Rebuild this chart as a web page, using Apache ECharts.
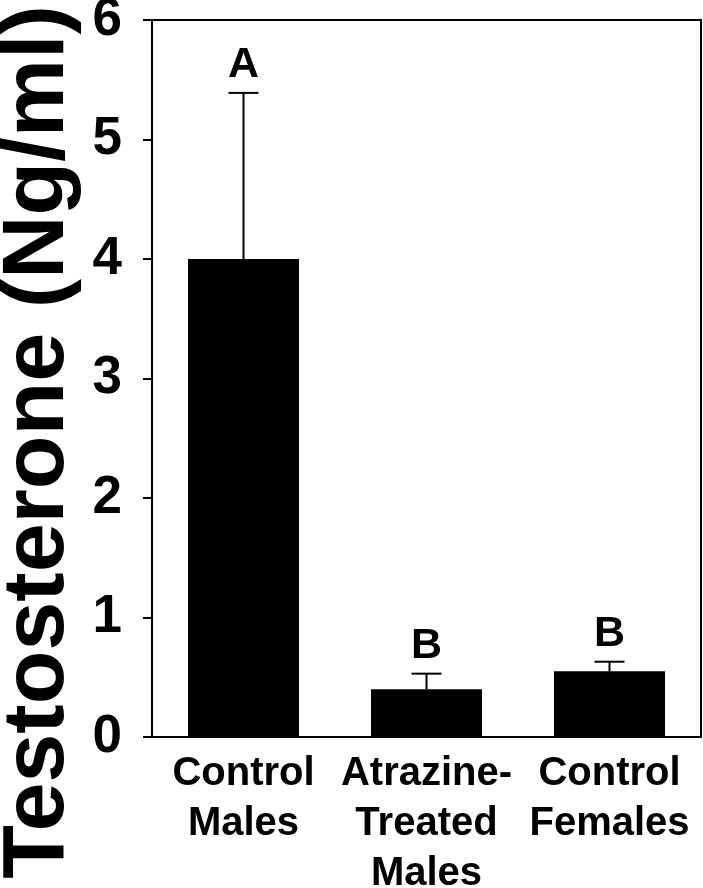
<!DOCTYPE html>
<html>
<head>
<meta charset="utf-8">
<script src="https://cdn.jsdelivr.net/npm/echarts@6/dist/echarts.min.js"></script>
<style>
html,body{margin:0;padding:0;background:#fff;}
#chart{width:703px;height:888px;}
</style>
</head>
<body>
<div id="chart"></div>
<script>
const categories = ['Control\nMales', 'Atrazine-\nTreated\nMales', 'Control\nFemales'];
const means = [4.0, 0.40, 0.55];
const stdErrors = [1.39, 0.13, 0.08];
const groupLetters = ['A', 'B', 'B'];
const yTicks = [0, 1, 2, 3, 4, 5, 6];
const yTitle = 'Testosterone (Ng/ml)';

const FONT = '"Liberation Sans", Arial, Helvetica, sans-serif';

const errData = means.map((m, i) => [i, m, m + stdErrors[i], groupLetters[i]]);

const chart = echarts.init(document.getElementById('chart'), null, {renderer: 'canvas'});
chart.setOption({
  animation: false,
  backgroundColor: '#fff',
  grid: {
    left: 152, right: 2, top: 20, bottom: 151,
    containLabel: false,
    outerBoundsMode: 'none',
    show: true, borderColor: '#000', borderWidth: 2, backgroundColor: 'transparent'
  },
  xAxis: {
    type: 'category',
    data: categories,
    boundaryGap: true,
    axisLine: {show: true, lineStyle: {color: '#000', width: 2}},
    axisTick: {show: false},
    axisLabel: {
      color: '#000', fontFamily: FONT, fontWeight: 'bold', fontSize: 40,
      lineHeight: 50, margin: 12, interval: 0
    },
    splitLine: {show: false}
  },
  yAxis: {
    type: 'value',
    min: yTicks[0], max: yTicks[yTicks.length - 1], interval: 1,
    axisLine: {show: true, lineStyle: {color: '#000', width: 2}},
    axisTick: {show: true, inside: false, length: 9, lineStyle: {color: '#000', width: 2}},
    axisLabel: {
      color: '#000', fontFamily: FONT, fontWeight: 'bold', fontSize: 53, margin: 30
    },
    splitLine: {show: false}
  },
  graphic: [{
    type: 'text',
    x: 39, y: 442,
    rotation: Math.PI / 2,
    style: {
      text: yTitle,
      font: 'bold 88px ' + FONT,
      fill: '#000',
      align: 'center',
      verticalAlign: 'middle'
    }
  }],
  series: [
    {
      type: 'bar',
      data: means,
      barWidth: 111,
      itemStyle: {color: '#000'},
      z: 2
    },
    {
      type: 'custom',
      data: errData,
      z: 3,
      renderItem: function (params, api) {
        const base = api.coord([api.value(0), api.value(1)]);
        const top = api.coord([api.value(0), api.value(2)]);
        const capHalf = 15;
        const letter = groupLetters[params.dataIndex];
        return {
          type: 'group',
          children: [
            {type: 'line', shape: {x1: base[0], y1: base[1], x2: top[0], y2: top[1]},
             style: {stroke: '#000', lineWidth: 2}},
            {type: 'line', shape: {x1: top[0] - capHalf, y1: top[1], x2: top[0] + capHalf, y2: top[1]},
             style: {stroke: '#000', lineWidth: 2}},
            {type: 'text', x: top[0], y: top[1] - 6,
             style: {text: letter, font: 'bold 43px ' + FONT, fill: '#000',
                     align: 'center', verticalAlign: 'bottom'}}
          ]
        };
      }
    }
  ]
});
</script>
</body>
</html>
